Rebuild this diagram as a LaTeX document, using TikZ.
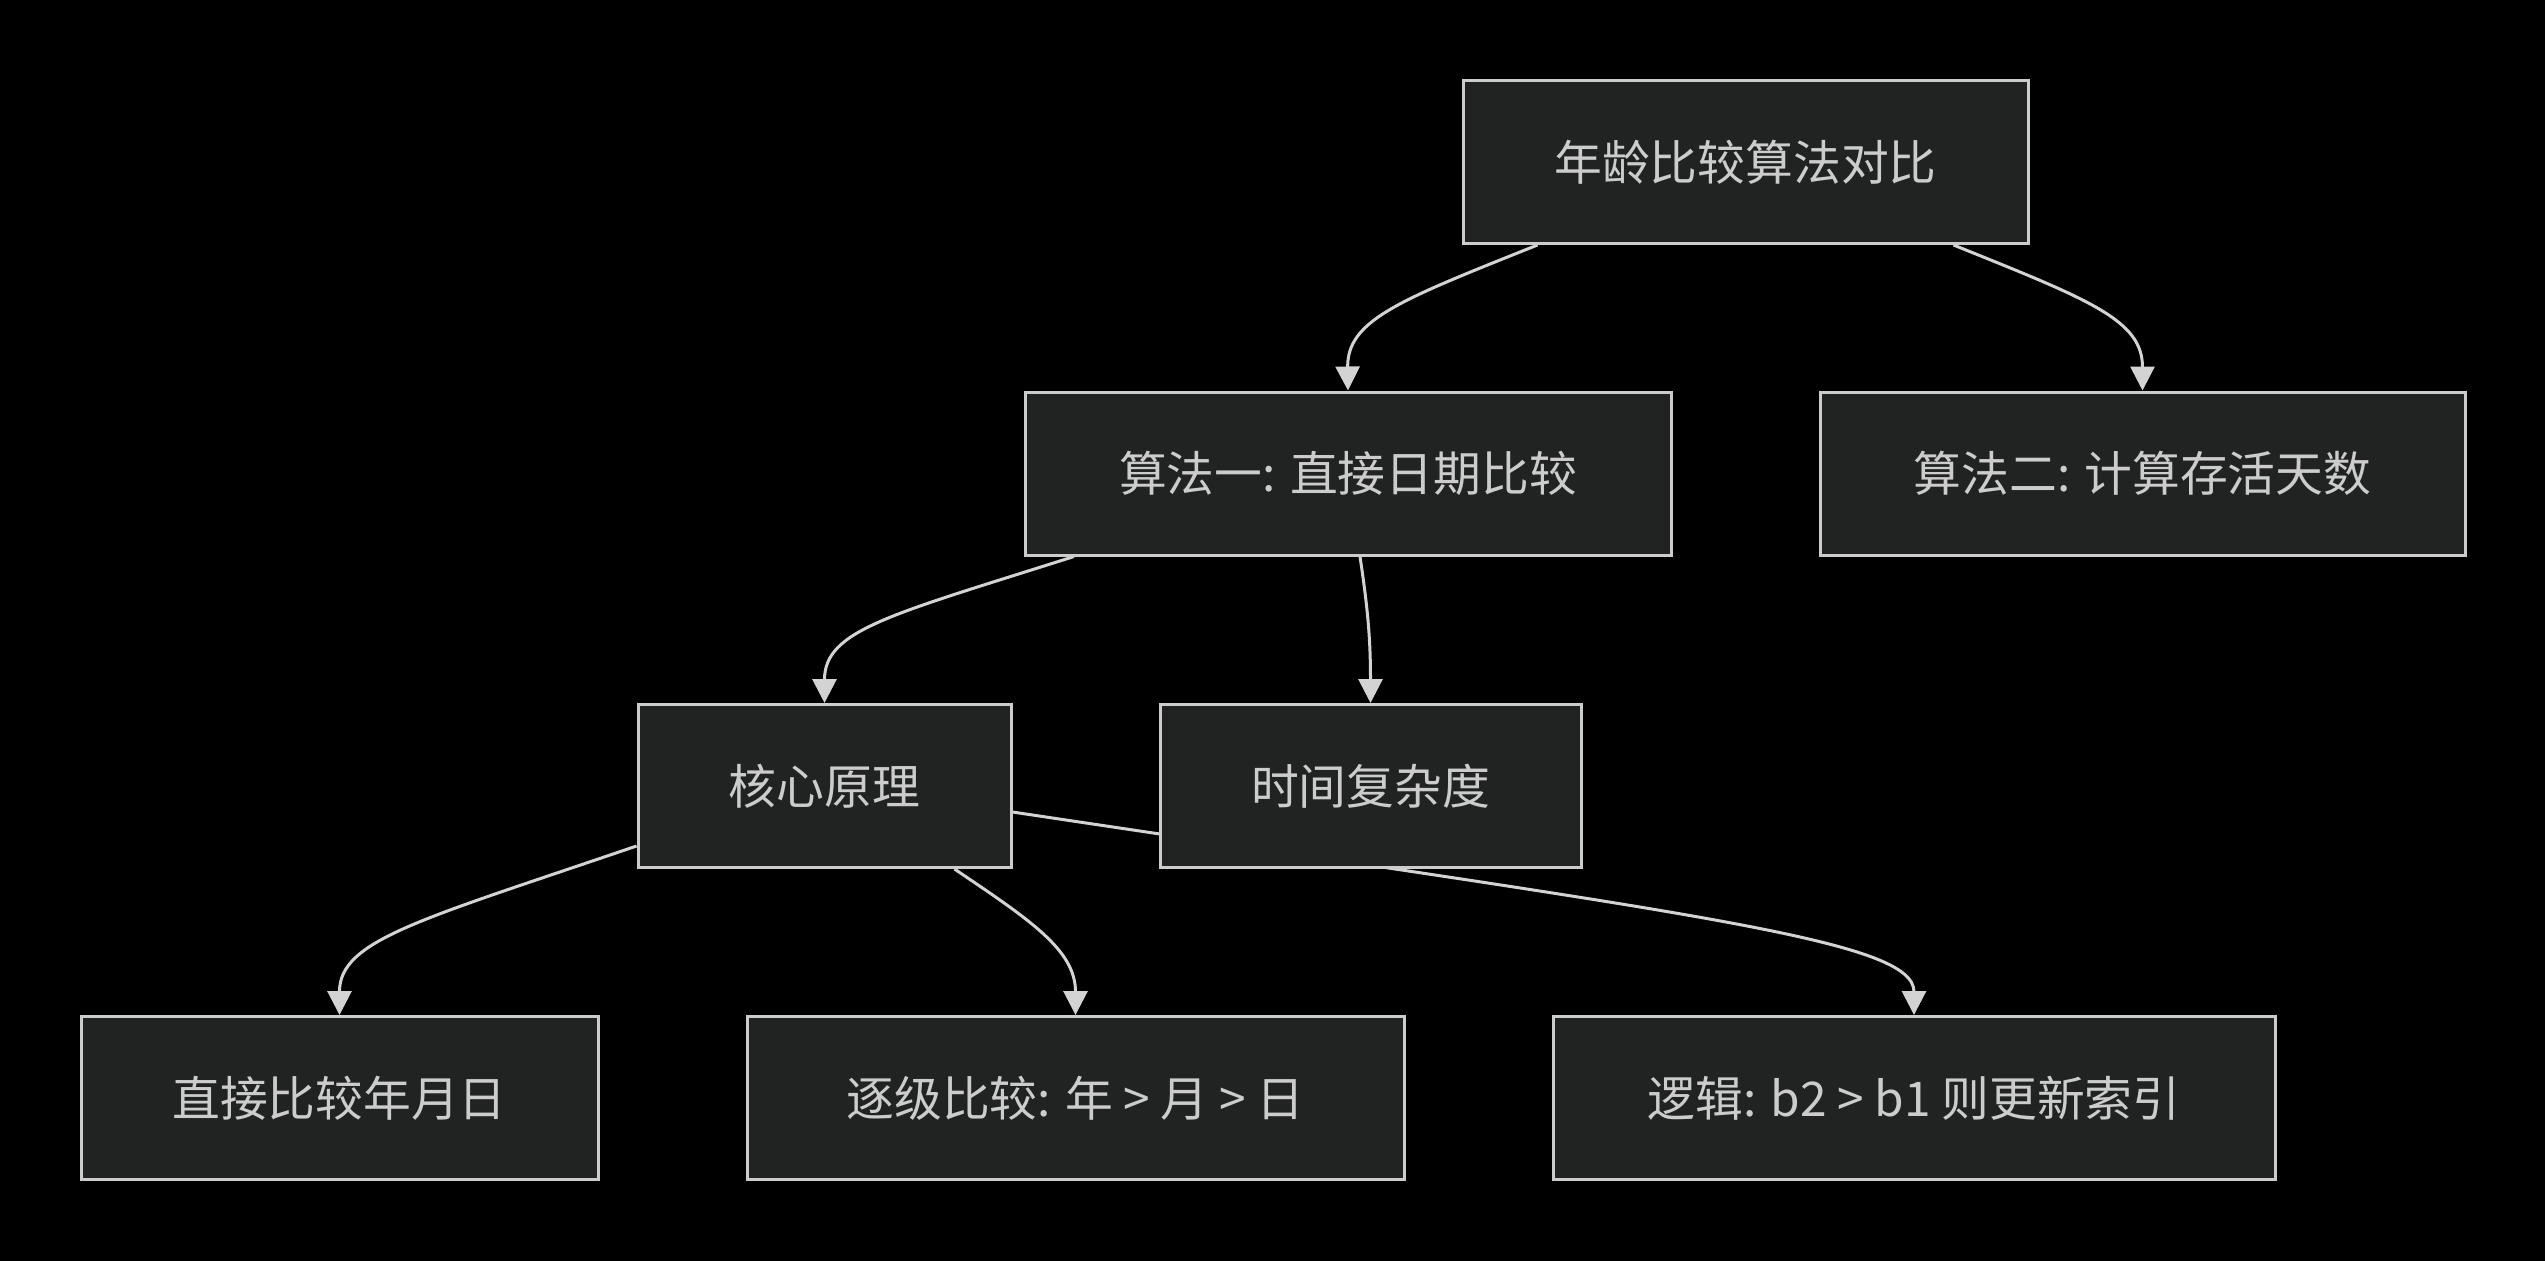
\documentclass[tikz,border=0pt]{standalone}
\usepackage{fontspec}
\newfontfamily\cjk{Noto Sans CJK SC}
\usetikzlibrary{arrows.meta}
\definecolor{boxfill}{HTML}{212322}
\definecolor{boxline}{HTML}{CCCCCC}
\definecolor{txtcol}{HTML}{CCCCCC}
\definecolor{edgecol}{HTML}{D3D3D3}
\pgfdeclarelayer{bglayer}
\pgfdeclarelayer{edgelayer}
\pgfsetlayers{bglayer,edgelayer,main}
\begin{document}
\begin{tikzpicture}[x=0.5pt,y=-0.5pt,
  box/.style={draw=boxline, line width=1.5pt, fill=boxfill, text=txtcol,
    font=\cjk\fontsize{23.9}{28}\selectfont, inner sep=0pt, minimum height=81.5pt},
  conn/.style={draw=edgecol, line width=1.5pt,
    -{Triangle[length=12pt,width=12pt]}}]
\useasboundingbox (0,0) rectangle (2545,1260);
\begin{pgfonlayer}{bglayer}
\fill[black] (-10,-10) rectangle (2555,1270);
\end{pgfonlayer}

\node[box, minimum width=282.5pt] (top) at (1745.5,162) {年龄比较算法对比};
\node[box, minimum width=323pt] (alg1) at (1348,473.5) {算法一: 直接日期比较};
\node[box, minimum width=322.5pt] (alg2) at (2142.5,473.5) {算法二: 计算存活天数};
\node[box, minimum width=186.5pt] (core) at (824.5,786) {核心原理};
\node[box, minimum width=210.5pt] (time) at (1370.5,786) {时间复杂度};
\node[box, minimum width=258.5pt] (direct) at (339.5,1098) {直接比较年月日};
\node[box, minimum width=328.5pt] (stepcmp) at (1075.5,1098) {逐级比较: 年 > 月 > 日};
\node[box, minimum width=361pt] (logic) at (1914,1098) {逻辑: b2 > b1 则更新索引};

\begin{pgfonlayer}{edgelayer}
\draw[conn] ([xshift=-104pt]top.south) .. controls (1400,300) and (1347,320) .. (alg1.north);
\draw[conn] ([xshift=104pt]top.south) .. controls (2090,300) and (2142.5,320) .. (alg2.north);
\draw[conn] ([xshift=-137pt]alg1.south) .. controls (890,615) and (824.5,630) .. (core.north);
\draw[conn] ([xshift=6pt]alg1.south) .. controls (1368,610) and (1370.5,640) .. (time.north);
\draw[conn] ([yshift=-30pt]core.west) .. controls (420,920) and (339.5,940) .. (direct.north);
\draw[conn] ([xshift=65pt]core.south) .. controls (1030,920) and (1075.5,950) .. (stepcmp.north);
\draw[conn] ([yshift=-13pt]core.east) .. controls (1700,915) and (1914,940) .. (logic.north);
\end{pgfonlayer}
\end{tikzpicture}
\end{document}
